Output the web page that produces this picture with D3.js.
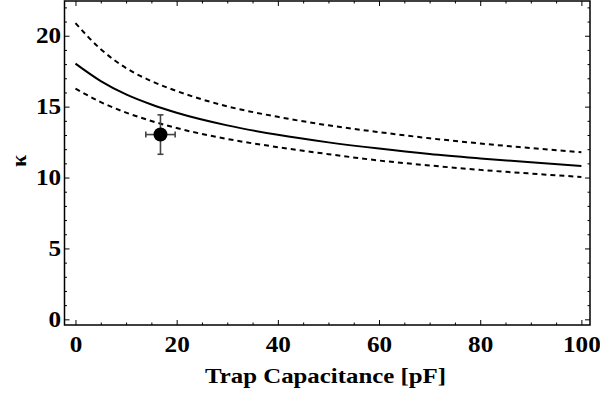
<!DOCTYPE html>
<html>
<head>
<meta charset="utf-8">
<script src="https://cdn.jsdelivr.net/npm/d3@7"></script>
<style>
  body { margin: 0; background: #fff; }
  svg { display: block; }
  .tick text { font-family: "Liberation Serif", "Times New Roman", serif; font-weight: bold; font-size: 22.5px; fill: #000; }
  .domain { display: none; }
</style>
</head>
<body>
<svg id="chart" width="600" height="393"></svg>
<script>
// readings
var capX = [0, 5, 10, 15, 20, 30, 40, 50, 60, 70, 80, 90, 100];
var kappaMid = [18.03, 16.8, 15.86, 15.15, 14.57, 13.68, 13.01, 12.48, 12.04, 11.66, 11.35, 11.07, 10.82];
var kappaHigh = [20.89, 19.05, 17.72, 16.8, 16.1, 15.02, 14.28, 13.68, 13.2, 12.77, 12.4, 12.08, 11.78];
var kappaLow = [16.27, 15.32, 14.58, 13.99, 13.49, 12.72, 12.14, 11.65, 11.2, 10.85, 10.54, 10.28, 10.04];
var measured = [{ c: 16.8, k: 13.03, dc: 2.9, dk: 1.39 }];
var xTicks = [0, 20, 40, 60, 80, 100];
var yTicks = [0, 5, 10, 15, 20];

var svg = d3.select("#chart"),
    mLeft = 64.5, mRight = 590, mTop = 1, mBottom = 325,
    stretch = 1.12; // labels in the picture are a bit wide

var x = d3.scaleLinear().domain([-2.17, 101.7]).range([mLeft, mRight]),
    y = d3.scaleLinear().domain([-0.4, 22.45]).range([mBottom, mTop]);

var minorX = d3.range(0, 101, 5).filter(function(v) { return v % 20 != 0; }),
    minorY = d3.range(0, 23, 1).filter(function(v) { return v % 5 != 0; });

function tickGroup(axis, tr) {
    var g = svg.append("g").attr("transform", tr).call(axis);
    g.selectAll(".tick line").attr("stroke", "#000").attr("stroke-width", 1);
    return g;
}

// major ticks with labels (bottom, left)
var gb = tickGroup(d3.axisBottom(x).tickValues(xTicks).tickSize(-5), "translate(0," + mBottom + ")");
gb.selectAll(".tick text").attr("y", 27).attr("dy", null)
    .attr("transform", "scale(" + stretch + ",1)");
var gl = tickGroup(d3.axisLeft(y).tickValues(yTicks).tickSize(-5), "translate(" + mLeft + ",0)");
gl.selectAll(".tick text").attr("x", -3).attr("dy", "0.3em")
    .attr("transform", "scale(" + stretch + ",1)");
// top/right major ticks, no labels
tickGroup(d3.axisTop(x).tickValues(xTicks).tickSize(-5).tickFormat(""), "translate(0," + mTop + ")");
tickGroup(d3.axisRight(y).tickValues(yTicks).tickSize(-5).tickFormat(""), "translate(" + mRight + ",0)");
// minor ticks
tickGroup(d3.axisBottom(x).tickValues(minorX).tickSize(-2.5).tickFormat(""), "translate(0," + mBottom + ")");
tickGroup(d3.axisTop(x).tickValues(minorX).tickSize(-2.5).tickFormat(""), "translate(0," + mTop + ")");
tickGroup(d3.axisLeft(y).tickValues(minorY).tickSize(-2.5).tickFormat(""), "translate(" + mLeft + ",0)");
tickGroup(d3.axisRight(y).tickValues(minorY).tickSize(-2.5).tickFormat(""), "translate(" + mRight + ",0)");

// frame
svg.append("rect")
    .attr("x", mLeft).attr("y", mTop)
    .attr("width", mRight - mLeft).attr("height", mBottom - mTop)
    .attr("fill", "none").attr("stroke", "#000").attr("stroke-width", 1.5);

var line = d3.line()
    .x(function(d) { return x(d[0]); })
    .y(function(d) { return y(d[1]); })
    .curve(d3.curveMonotoneX);

function series(vals) { return capX.map(function(c, i) { return [c, vals[i]]; }); }

svg.append("path").datum(series(kappaHigh))
    .attr("d", line).attr("fill", "none").attr("stroke", "#000")
    .attr("stroke-width", 2).attr("stroke-dasharray", "5,4");
svg.append("path").datum(series(kappaLow))
    .attr("d", line).attr("fill", "none").attr("stroke", "#000")
    .attr("stroke-width", 2).attr("stroke-dasharray", "5,4");
svg.append("path").datum(series(kappaMid))
    .attr("d", line).attr("fill", "none").attr("stroke", "#000")
    .attr("stroke-width", 2);

// data point with error bars
var pt = svg.selectAll("g.pt").data(measured).enter().append("g").attr("class", "pt");
pt.append("line")
    .attr("x1", function(d) { return x(d.c - d.dc); })
    .attr("x2", function(d) { return x(d.c + d.dc); })
    .attr("y1", function(d) { return y(d.k); })
    .attr("y2", function(d) { return y(d.k); });
pt.append("line")
    .attr("x1", function(d) { return x(d.c); })
    .attr("x2", function(d) { return x(d.c); })
    .attr("y1", function(d) { return y(d.k - d.dk); })
    .attr("y2", function(d) { return y(d.k + d.dk); });
// caps
pt.append("line")
    .attr("x1", function(d) { return x(d.c - d.dc); })
    .attr("x2", function(d) { return x(d.c - d.dc); })
    .attr("y1", function(d) { return y(d.k) - 3; })
    .attr("y2", function(d) { return y(d.k) + 3; });
pt.append("line")
    .attr("x1", function(d) { return x(d.c + d.dc); })
    .attr("x2", function(d) { return x(d.c + d.dc); })
    .attr("y1", function(d) { return y(d.k) - 3; })
    .attr("y2", function(d) { return y(d.k) + 3; });
pt.append("line")
    .attr("x1", function(d) { return x(d.c) - 3; })
    .attr("x2", function(d) { return x(d.c) + 3; })
    .attr("y1", function(d) { return y(d.k - d.dk); })
    .attr("y2", function(d) { return y(d.k - d.dk); });
pt.append("line")
    .attr("x1", function(d) { return x(d.c) - 3; })
    .attr("x2", function(d) { return x(d.c) + 3; })
    .attr("y1", function(d) { return y(d.k + d.dk); })
    .attr("y2", function(d) { return y(d.k + d.dk); });
pt.selectAll("line").attr("stroke", "#444").attr("stroke-width", 1.6);
pt.append("circle")
    .attr("cx", function(d) { return x(d.c); })
    .attr("cy", function(d) { return y(d.k); })
    .attr("r", 7).attr("fill", "#000");

// axis titles
svg.append("text")
    .attr("x", 205).attr("y", 383)
    .attr("textLength", 241).attr("lengthAdjust", "spacingAndGlyphs")
    .style("font-family", "'Liberation Serif', serif").style("font-weight", "bold").style("font-size", "22px")
    .text("Trap Capacitance [pF]");
svg.append("text")
    .attr("transform", "translate(26,161) rotate(-90)")
    .attr("text-anchor", "middle")
    .style("font-family", "'Liberation Serif', serif").style("font-weight", "bold").style("font-size", "22px")
    .text("κ");
</script>
</body>
</html>
